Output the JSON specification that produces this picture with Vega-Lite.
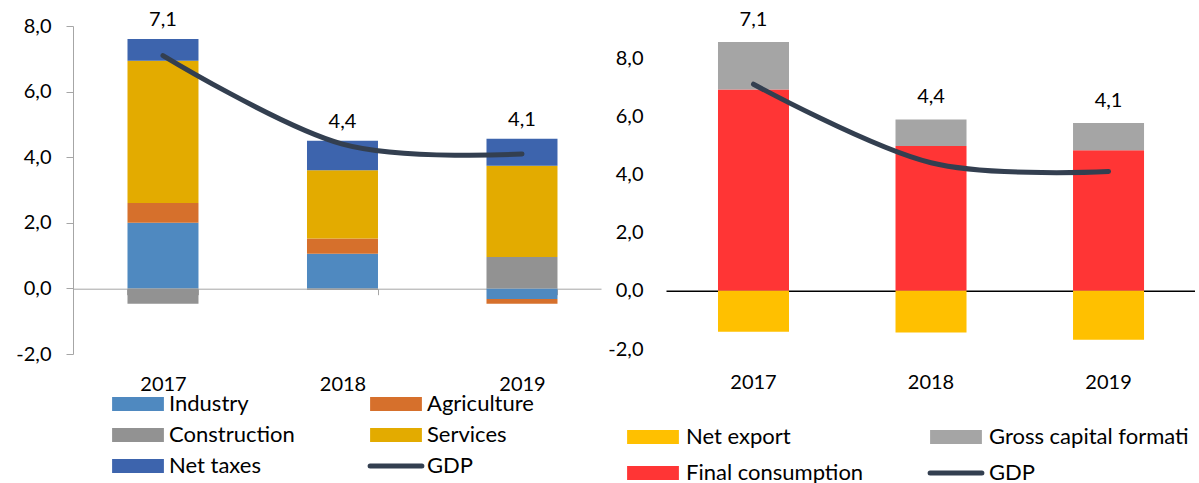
{
  "$schema": "https://vega.github.io/schema/vega-lite/v6.json",
  "padding": {"left": 15, "top": 10, "right": 0, "bottom": 0},
  "config": {
    "locale": {"number": {"decimal": ",", "thousands": " ", "grouping": [3], "currency": ["", ""], "minus": "-"}},
    "view": {"stroke": null},
    "font": "Lato",
    "axis": {"labelFont": "Lato", "labelFontSize": 20, "labelColor": "#000", "title": null, "grid": false},
    "legend": {"labelFont": "Lato", "labelFontSize": 22, "labelColor": "#000", "padding": 0}
  },
  "datasets": {
    "prod": [
      {"year": "2017", "series": "Industry", "value": 2.0},
      {"year": "2017", "series": "Agriculture", "value": 0.6},
      {"year": "2017", "series": "Construction", "value": -0.47},
      {"year": "2017", "series": "Services", "value": 4.34},
      {"year": "2017", "series": "Net taxes", "value": 0.66},
      {"year": "2018", "series": "Industry", "value": 1.06},
      {"year": "2018", "series": "Agriculture", "value": 0.46},
      {"year": "2018", "series": "Construction", "value": -0.04},
      {"year": "2018", "series": "Services", "value": 2.08},
      {"year": "2018", "series": "Net taxes", "value": 0.9},
      {"year": "2019", "series": "Industry", "value": -0.32},
      {"year": "2019", "series": "Agriculture", "value": -0.15},
      {"year": "2019", "series": "Construction", "value": 0.96},
      {"year": "2019", "series": "Services", "value": 2.78},
      {"year": "2019", "series": "Net taxes", "value": 0.82}
    ],
    "use": [
      {"year": "2017", "series": "Final consumption", "value": 6.92},
      {"year": "2017", "series": "Gross capital formation", "value": 1.63},
      {"year": "2017", "series": "Net export", "value": -1.41},
      {"year": "2018", "series": "Final consumption", "value": 4.98},
      {"year": "2018", "series": "Gross capital formation", "value": 0.91},
      {"year": "2018", "series": "Net export", "value": -1.43},
      {"year": "2019", "series": "Final consumption", "value": 4.83},
      {"year": "2019", "series": "Gross capital formation", "value": 0.94},
      {"year": "2019", "series": "Net export", "value": -1.68}
    ],
    "gdp": [
      {"year": "2017", "gdp": 7.1},
      {"year": "2018", "gdp": 4.4},
      {"year": "2019", "gdp": 4.1}
    ]
  },
  "spacing": 65,
  "bounds": "flush",
  "resolve": {"scale": {"color": "independent", "x": "independent", "y": "independent"}, "legend": {"color": "independent"}},
  "hconcat": [
    {
      "width": 528,
      "height": 328,
      "layer": [
        {
          "data": {"name": "prod"},
          "transform": [{"calculate": "indexof(['Industry','Agriculture','Construction','Services','Net taxes'], datum.series)", "as": "ord"}],
          "mark": {"type": "bar"},
          "encoding": {
            "x": {"field": "year", "type": "ordinal",
              "scale": {"paddingInner": 0.6045, "paddingOuter": 0.273, "align": 0.556},
              "axis": {"orient": "bottom", "offset": -65.3, "domainColor": "#a6a6a6", "tickColor": "#a6a6a6", "tickSize": 6, "tickBand": "extent", "labelPadding": 80, "labelAngle": 0}},
            "y": {"field": "value", "type": "quantitative", "stack": "zero",
              "scale": {"domain": [-2, 8], "nice": false, "zero": false},
              "axis": {"values": [-2, 0, 2, 4, 6, 8], "format": ".1f", "domainColor": "#a6a6a6", "tickColor": "#a6a6a6", "tickSize": 7, "labelPadding": 15}},
            "color": {"field": "series", "type": "nominal",
              "scale": {"domain": ["Industry", "Agriculture", "Construction", "Services", "Net taxes", "GDP"],
                        "range": ["#4f89c0", "#d6702c", "#929292", "#e3ab00", "#3d64ad", "#333f50"]},
              "legend": {"title": null, "orient": "none", "direction": "horizontal", "legendX": 54, "legendY": 367, "columns": 2, "columnPadding": 65, "rowPadding": 9,
                "symbolType": "M-3.7,-1H3.7V1H-3.7Z", "symbolSize": 196, "labelOffset": 20, "symbolStrokeWidth": 0,
                "encode": {"symbols": {"update": {
                  "shape": {"signal": "datum.label == 'GDP' ? 'M-3.7,0H3.7' : 'M-3.7,-1H3.7V1H-3.7Z'"},
                  "stroke": {"signal": "datum.label == 'GDP' ? '#333f50' : 'transparent'"},
                  "strokeWidth": {"signal": "datum.label == 'GDP' ? 5 : 0"},
                  "strokeCap": {"value": "round"}}}}}},
            "order": {"field": "ord", "type": "quantitative"}
          }
        },
        {
          "data": {"name": "gdp"},
          "mark": {"type": "line", "interpolate": "cardinal", "color": "#333f50", "strokeWidth": 5, "strokeCap": "round"},
          "encoding": {
            "x": {"field": "year", "type": "ordinal"},
            "y": {"field": "gdp", "type": "quantitative"}
          }
        },
        {
          "data": {"name": "prod"},
          "transform": [
            {"filter": "datum.value > 0"},
            {"aggregate": [{"op": "sum", "field": "value", "as": "top"}], "groupby": ["year"]},
            {"lookup": "year", "from": {"data": {"name": "gdp"}, "key": "year", "fields": ["gdp"]}}
          ],
          "mark": {"type": "text", "dy": -19, "fontSize": 20, "color": "#000"},
          "encoding": {
            "x": {"field": "year", "type": "ordinal"},
            "y": {"field": "top", "type": "quantitative"},
            "text": {"field": "gdp", "type": "quantitative", "format": ".1f"}
          }
        }
      ]
    },
    {
      "width": 529,
      "height": 323,
      "layer": [
        {
          "data": {"name": "use"},
          "transform": [{"calculate": "indexof(['Final consumption','Gross capital formation','Net export'], datum.series)", "as": "ord"}],
          "mark": {"type": "bar"},
          "encoding": {
            "x": {"field": "year", "type": "ordinal",
              "scale": {"paddingInner": 0.6, "paddingOuter": 0.29, "align": 0.505},
              "axis": {"orient": "bottom", "offset": -58.3, "domainColor": "#000", "domainWidth": 1.5, "ticks": false, "labelPadding": 82, "labelAngle": 0}},
            "y": {"field": "value", "type": "quantitative", "stack": "zero",
              "scale": {"domain": [-2, 9.1], "nice": false, "zero": false},
              "axis": {"values": [-2, 0, 2, 4, 6, 8], "format": ".1f", "domain": false, "ticks": false, "labelPadding": 23}},
            "color": {"field": "series", "type": "nominal",
              "scale": {"domain": ["Net export", "Gross capital formation", "Final consumption", "GDP"],
                        "range": ["#ffc000", "#a5a5a5", "#ff3535", "#333f50"]},
              "legend": {"title": null, "orient": "none", "direction": "horizontal", "legendX": -24, "legendY": 400, "columns": 2, "columnPadding": 56, "rowPadding": 14,
                "symbolType": "M-3.7,-1H3.7V1H-3.7Z", "symbolSize": 196, "labelOffset": 22, "symbolStrokeWidth": 0, "labelLimit": 215,
                "encode": {
                  "labels": {"update": {"ellipsis": {"value": " "}}},
                  "symbols": {"update": {
                  "shape": {"signal": "datum.label == 'GDP' ? 'M-3.7,0H3.7' : 'M-3.7,-1H3.7V1H-3.7Z'"},
                  "stroke": {"signal": "datum.label == 'GDP' ? '#333f50' : 'transparent'"},
                  "strokeWidth": {"signal": "datum.label == 'GDP' ? 5 : 0"},
                  "strokeCap": {"value": "round"}}}}}},
            "order": {"field": "ord", "type": "quantitative"}
          }
        },
        {
          "data": {"name": "gdp"},
          "mark": {"type": "line", "interpolate": "cardinal", "color": "#333f50", "strokeWidth": 5, "strokeCap": "round"},
          "encoding": {
            "x": {"field": "year", "type": "ordinal"},
            "y": {"field": "gdp", "type": "quantitative"}
          }
        },
        {
          "data": {"name": "use"},
          "transform": [
            {"filter": "datum.value > 0"},
            {"aggregate": [{"op": "sum", "field": "value", "as": "top"}], "groupby": ["year"]},
            {"lookup": "year", "from": {"data": {"name": "gdp"}, "key": "year", "fields": ["gdp"]}}
          ],
          "mark": {"type": "text", "dy": -22, "fontSize": 20, "color": "#000"},
          "encoding": {
            "x": {"field": "year", "type": "ordinal"},
            "y": {"field": "top", "type": "quantitative"},
            "text": {"field": "gdp", "type": "quantitative", "format": ".1f"}
          }
        }
      ]
    }
  ]
}
